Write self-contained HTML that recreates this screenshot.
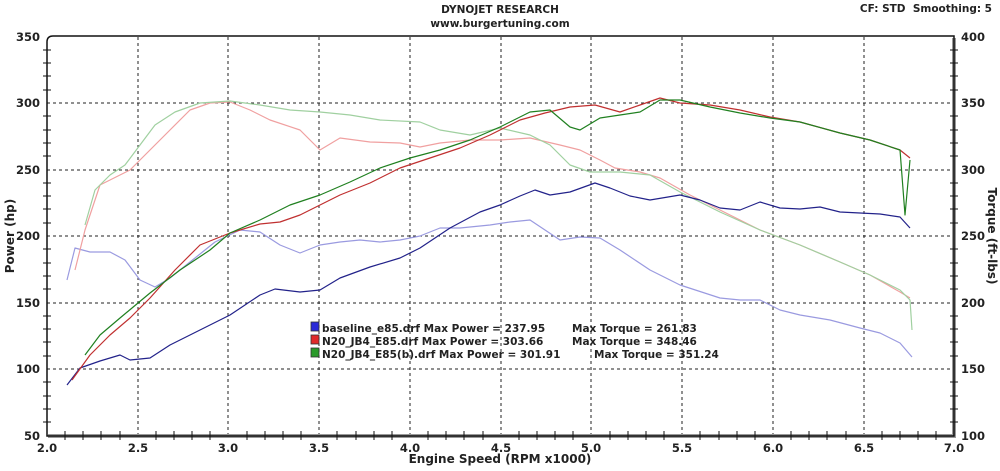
<!DOCTYPE html>
<html><head><style>
body{margin:0;background:#fff;}
svg text{font-family:"DejaVu Sans","Liberation Sans",sans-serif;font-weight:bold;fill:#222;}
</style></head><body>
<svg width="1000" height="466" xmlns="http://www.w3.org/2000/svg">
<text x="500" y="13" font-size="10.5" text-anchor="middle">DYNOJET RESEARCH</text>
<text x="500" y="27" font-size="10.5" text-anchor="middle">www.burgertuning.com</text>
<text x="992" y="12" font-size="10.5" text-anchor="end" xml:space="preserve">CF: STD  Smoothing: 5</text>
<text x="14" y="236" font-size="12" text-anchor="middle" transform="rotate(-90 14 236)">Power (hp)</text>
<text x="988" y="236" font-size="12" text-anchor="middle" transform="rotate(90 988 236)">Torque (ft-lbs)</text>
<text x="500" y="463" font-size="12" text-anchor="middle">Engine Speed (RPM x1000)</text>
<g stroke="#222" stroke-dasharray="3,3" stroke-width="1">
<line x1="138" y1="37" x2="138" y2="435"/><line x1="228" y1="37" x2="228" y2="435"/><line x1="319" y1="37" x2="319" y2="435"/><line x1="410" y1="37" x2="410" y2="435"/><line x1="501" y1="37" x2="501" y2="435"/><line x1="591" y1="37" x2="591" y2="435"/><line x1="682" y1="37" x2="682" y2="435"/><line x1="773" y1="37" x2="773" y2="435"/><line x1="864" y1="37" x2="864" y2="435"/>
<line x1="47" y1="103" x2="954" y2="103"/><line x1="47" y1="170" x2="954" y2="170"/><line x1="47" y1="236" x2="954" y2="236"/><line x1="47" y1="303" x2="954" y2="303"/><line x1="47" y1="369" x2="954" y2="369"/>
</g>
<path d="M954 38 V436 H48" fill="none" stroke="#999" stroke-width="4"/>
<path d="M47 436 V42 Q47 36 53 36 H954 V436 Z" fill="none" stroke="#111" stroke-width="1.5"/>
<g stroke="#111" stroke-width="1">
<path d="M43 50h8M43 63h8M43 76h8M43 90h8M43 116h8M43 130h8M43 143h8M43 156h8M43 183h8M43 196h8M43 209h8M43 223h8M43 249h8M43 263h8M43 276h8M43 289h8M43 316h8M43 329h8M43 342h8M43 356h8M43 382h8M43 396h8M43 409h8M43 422h8"/>
<path d="M950 50h8M950 63h8M950 76h8M950 90h8M950 116h8M950 130h8M950 143h8M950 156h8M950 183h8M950 196h8M950 209h8M950 223h8M950 249h8M950 263h8M950 276h8M950 289h8M950 316h8M950 329h8M950 342h8M950 356h8M950 382h8M950 396h8M950 409h8M950 422h8"/>
<path d="M65 431v9M83 431v9M101 431v9M120 431v9M156 431v9M174 431v9M192 431v9M210 431v9M247 431v9M265 431v9M283 431v9M301 431v9M337 431v9M356 431v9M374 431v9M392 431v9M428 431v9M446 431v9M464 431v9M483 431v9M519 431v9M537 431v9M555 431v9M573 431v9M610 431v9M628 431v9M646 431v9M664 431v9M700 431v9M719 431v9M737 431v9M755 431v9M791 431v9M809 431v9M827 431v9M846 431v9M882 431v9M900 431v9M918 431v9M936 431v9"/>
</g>
<g font-size="11.5" text-anchor="end">
<text x="40" y="41">350</text><text x="40" y="107">300</text><text x="40" y="174">250</text><text x="40" y="240">200</text><text x="40" y="307">150</text><text x="40" y="373">100</text><text x="40" y="440">50</text>
</g>
<g font-size="11.5">
<text x="961" y="41">400</text><text x="961" y="107">350</text><text x="961" y="174">300</text><text x="961" y="240">250</text><text x="961" y="307">200</text><text x="961" y="373">150</text><text x="961" y="440">100</text>
</g>
<g font-size="11.5" text-anchor="middle">
<text x="47" y="452">2.0</text><text x="138" y="452">2.5</text><text x="228" y="452">3.0</text><text x="319" y="452">3.5</text><text x="410" y="452">4.0</text><text x="501" y="452">4.5</text><text x="591" y="452">5.0</text><text x="682" y="452">5.5</text><text x="773" y="452">6.0</text><text x="864" y="452">6.5</text><text x="954" y="452">7.0</text>
</g>
<g fill="none" stroke-width="1.2" stroke-linejoin="round">
<polyline stroke="#9a9ae0" points="67,280 75,248 90,252 110,252 125,260 140,280 155,287 170,278 190,262 215,242 240,230 260,232 280,245 300,253 320,245 340,242 360,240 380,242 400,240 420,236 440,228 460,228 490,225 510,222 530,220 545,230 560,240 580,237 600,238 620,250 650,270 680,285 720,298 740,300 760,300 780,310 800,315 830,320 860,328 880,333 900,343 912,357"/>
<polyline stroke="#f0a0a0" points="75,270 85,230 100,185 130,170 150,150 170,130 190,110 210,103 230,102 250,110 270,120 300,130 320,150 340,138 370,142 400,143 420,147 440,143 470,140 500,140 530,138 560,145 580,150 600,160 615,168 640,172 660,178 690,195 730,215 760,230 800,245 840,262 870,275 900,292 910,298"/>
<polyline stroke="#a0d0a0" points="85,225 95,190 110,175 125,165 140,145 155,125 175,112 200,103 230,101 260,105 290,110 320,112 350,115 380,120 420,122 440,130 470,135 500,128 530,135 550,145 570,165 590,172 620,172 650,175 680,192 720,212 760,230 800,245 840,262 870,275 900,290 910,300 912,330"/>
<polyline stroke="#22228a" points="67,385 80,368 100,361 120,355 130,360 150,358 170,345 200,330 230,315 260,295 275,289 300,292 320,290 340,278 370,267 400,258 420,248 450,228 480,212 500,205 520,196 535,190 550,195 570,192 595,183 610,188 630,196 650,200 680,195 700,200 720,208 740,210 760,202 780,208 800,209 820,207 840,212 860,213 880,214 900,217 910,228"/>
<polyline stroke="#c03030" points="72,380 90,355 110,335 130,318 150,298 175,270 200,245 230,233 260,224 280,222 300,215 320,205 340,195 370,183 400,168 430,158 460,148 490,135 520,120 545,113 570,107 595,105 620,112 640,105 660,98 680,103 710,105 740,110 770,117 800,122 840,133 870,140 900,150 910,158"/>
<polyline stroke="#208020" points="85,355 100,335 120,318 150,293 180,270 210,250 230,233 260,220 290,205 320,195 350,182 380,168 410,158 440,150 470,140 500,127 530,112 550,110 570,127 580,130 600,118 620,115 640,112 660,100 680,100 710,107 740,113 770,118 800,122 840,133 870,140 900,150 905,215 910,160"/>
</g>
<g stroke="#333" stroke-width="0.8">
<rect x="311" y="322" width="8" height="9" fill="#2a2ad8"/>
<rect x="311" y="335" width="8" height="9" fill="#e02a2a"/>
<rect x="311" y="348" width="8" height="9" fill="#2a9a2a"/>
</g>
<g font-size="10.5">
<text x="322" y="332">baseline_e85.drf Max Power = 237.95</text>
<text x="572" y="332">Max Torque = 261.83</text>
<text x="322" y="345">N20_JB4_E85.drf Max Power = 303.66</text>
<text x="572" y="345">Max Torque = 348.46</text>
<text x="322" y="358">N20_JB4_E85(b).drf Max Power = 301.91</text>
<text x="594" y="358">Max Torque = 351.24</text>
</g>
</svg>
</body></html>
